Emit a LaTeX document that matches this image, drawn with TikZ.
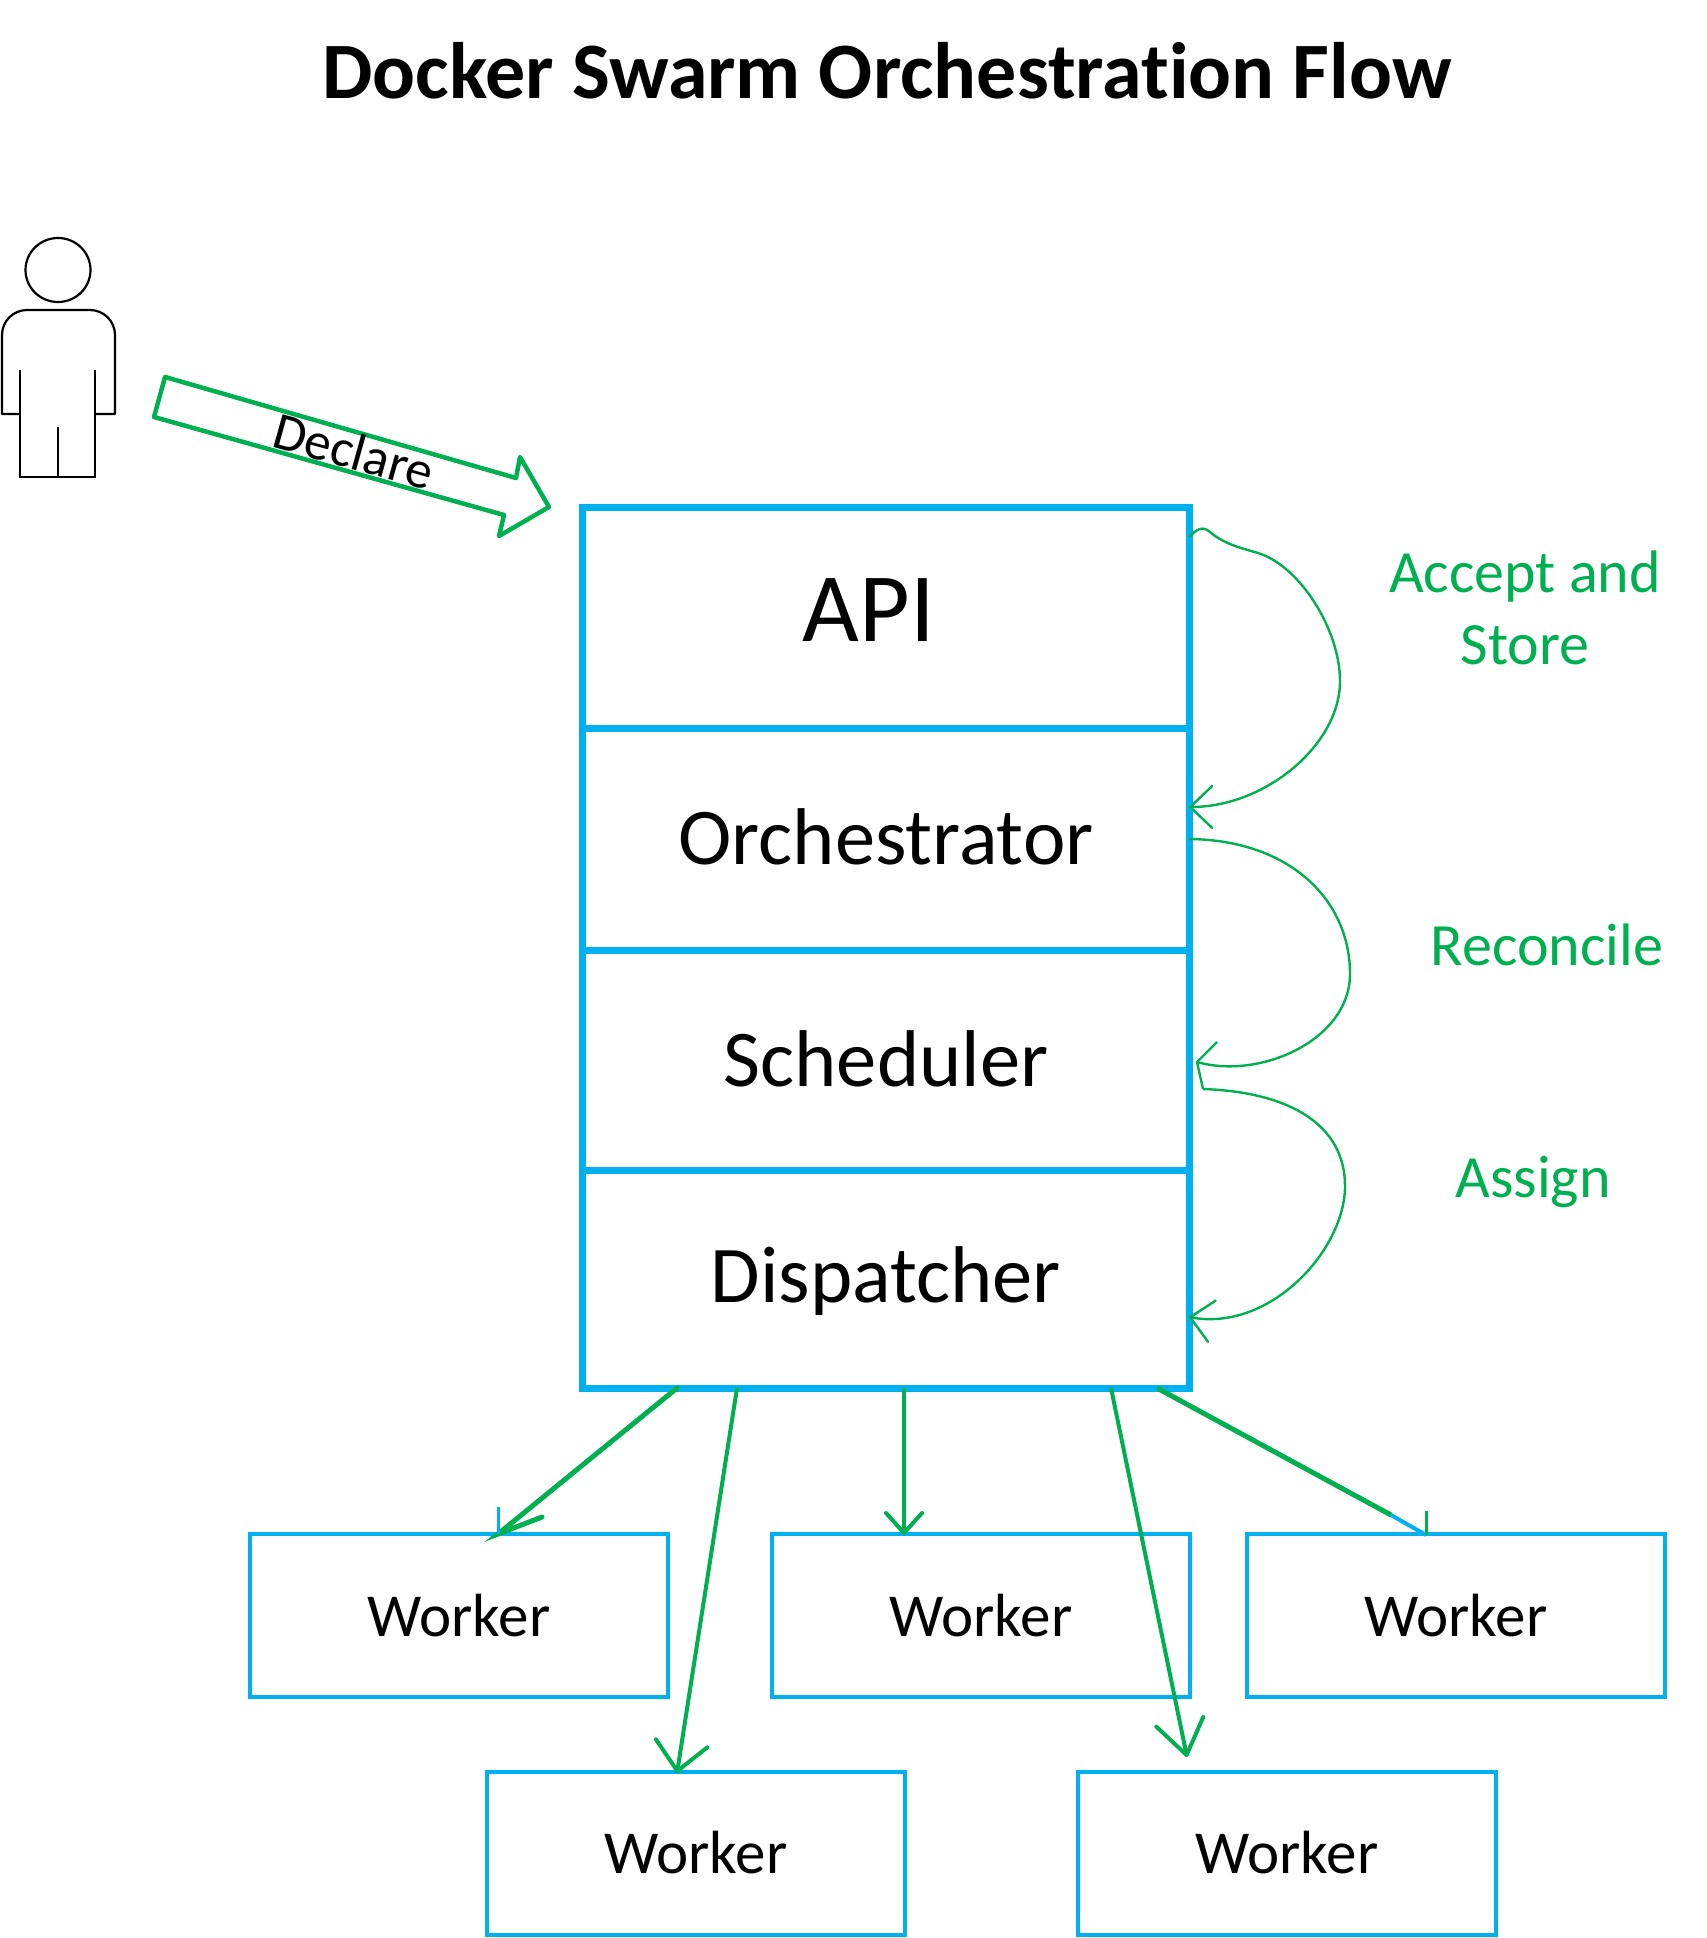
\documentclass[tikz,border=0pt]{standalone}
\usepackage{fontspec}
\setmainfont[Ligatures=NoCommon]{Carlito}
\usetikzlibrary{arrows.meta,shapes.geometric}
\definecolor{swarmblue}{HTML}{00B0F0}
\definecolor{swarmgreen}{HTML}{00B050}
\tikzset{
  stackbox/.style={draw=swarmblue,line width=7pt,rectangle,inner sep=0pt,outer sep=0pt,minimum width=607pt,font=\fontsize{80.5}{90}\selectfont},
  workerbox/.style={draw=swarmblue,line width=4pt,rectangle,inner sep=0pt,outer sep=0pt,minimum width=418pt,minimum height=163pt,font=\fontsize{61}{70}\selectfont},
  steplabel/.style={text=swarmgreen,align=center,font=\fontsize{60}{72}\selectfont},
  person/.style={draw=black,line width=2.2pt},
  flow/.style={draw=swarmgreen,line width=4pt,-{Straight Barb[length=28pt,width=52pt,round]}},
  smallflow/.style={draw=swarmgreen,line width=4pt,-{Straight Barb[length=20pt,width=36pt,round]}},
  bigflow/.style={draw=swarmgreen,line width=4pt,-{Straight Barb[length=34pt,width=48pt,round]}},
  loopflow/.style={draw=swarmgreen,line width=2.4pt},
  looptip/.style={loopflow,-{Straight Barb[length=22pt,width=42pt,round]}},
}
\begin{document}
\begin{tikzpicture}[x=1pt,y=-1pt]
\useasboundingbox (0,0) rectangle (1706,1938);
\node[font=\bfseries\fontsize{80}{90}\selectfont] (title) at (887,71) {Docker Swarm Orchestration Flow};
% person
\node[person,ellipse,inner sep=0pt,outer sep=0pt,minimum width=65pt,minimum height=64pt] (head) at (58,270) {};
\draw[person,line join=round] (20,414) -- (2,414) -- (2,335) arc (180:270:25) -- (90,310) arc (270:360:25) -- (115,414) -- (95,414);
\draw[person] (20,370) -- (20,477) -- (95,477) -- (95,370);
\draw[person] (58,427) -- (58,477);
% declare arrow
\draw[swarmgreen,line width=4.5pt,line join=round] (165,377) -- (516,478) -- (520,457) -- (549,507) -- (499,536) -- (504,515) -- (154,417) -- cycle;
\node[rotate=-15.6,font=\fontsize{53}{60}\selectfont] (declare) at (354,451) {Declare};
% stack
\node[stackbox,minimum height=221pt] (api) at (886,617.5) {};
\node[font=\fontsize{98}{110}\selectfont] (apitext) at (869,610) {API};
\node[stackbox,minimum height=222pt] (orch) at (886,839) {\raisebox{2pt}[\height][\depth]{Orchestrator}};
\node[stackbox,minimum height=220pt] (sched) at (886,1060) {\raisebox{1pt}[\height][\depth]{Scheduler}};
\node[stackbox,minimum height=218pt] (disp) at (886,1279) {\raisebox{-2pt}[\height][\depth]{Dispatcher}};
% workers
\node[workerbox] (w1) at (459,1615.5) {Worker};
\node[workerbox] (w2) at (981,1615.5) {Worker};
\node[workerbox] (w3) at (1456,1615.5) {Worker};
\node[workerbox] (w4) at (696,1853) {Worker};
\node[workerbox] (w5) at (1287,1853) {Worker};
% labels
\node[steplabel] (accept) at (1525,608) {Accept and\\Store};
\node[steplabel] (reconcile) at (1547,945) {Reconcile};
\node[steplabel] (assign) at (1533,1182) {Assign};
% connector ends
\coordinate (a1s) at (677,1388); \coordinate (a1e) at (498,1534); \coordinate (a1b) at (498,1507); \coordinate (a1g) at (542,1517);
\coordinate (a2s) at (737,1388); \coordinate (a2e) at (677,1773);
\coordinate (a3s) at (904,1388); \coordinate (a3e) at (904,1535);
\coordinate (a4s) at (1111,1388); \coordinate (a4e) at (1187,1757);
\coordinate (a5s) at (1157,1388); \coordinate (a5m) at (1391,1515); \coordinate (a5e) at (1426,1535); \coordinate (a5b) at (1426,1511);
\draw[swarmgreen,line width=5pt,line cap=round] (a1s) -- (a1e) -- (a1g);
\draw[swarmblue,line width=3pt] (a1b) -- (a1e);
\draw[flow] (a2s) -- (a2e);
\draw[smallflow] (a3s) -- (a3e);
\draw[bigflow] (a4s) -- (a4e);
\draw[swarmgreen,line width=5pt] (a5s) -- (a5m);
\draw[swarmblue,line width=4pt] (a5m) -- (a5e);
\draw[swarmgreen,line width=3pt] (a5b) -- (a5e);
% loops
\coordinate (c1s) at (1189,537); \coordinate (c1e) at (1189,807);
\coordinate (c2s) at (1189,839); \coordinate (c2e) at (1197,1062); \coordinate (c2b) at (1217,1042);
\coordinate (c3s) at (1203,1089); \coordinate (c3e) at (1189,1317);
\draw[looptip] (c1s) .. controls (1196,530) and (1202,525) .. (1210,532) .. controls (1225,545) and (1245,549) .. (1258,553) .. controls (1300,566) and (1340,630) .. (1340,681) .. controls (1340,745) and (1265,807) .. (c1e);
\draw[loopflow,line join=round] (c2s) .. controls (1290,840) and (1350,900) .. (1350,974) .. controls (1350,1040) and (1260,1080) .. (c2e);
\draw[loopflow,line join=round] (c2b) -- (c2e) -- (c3s);
\draw[looptip] (c3s) .. controls (1290,1092) and (1345,1125) .. (1345,1186) .. controls (1345,1250) and (1270,1332) .. (c3e);
\end{tikzpicture}
\end{document}
